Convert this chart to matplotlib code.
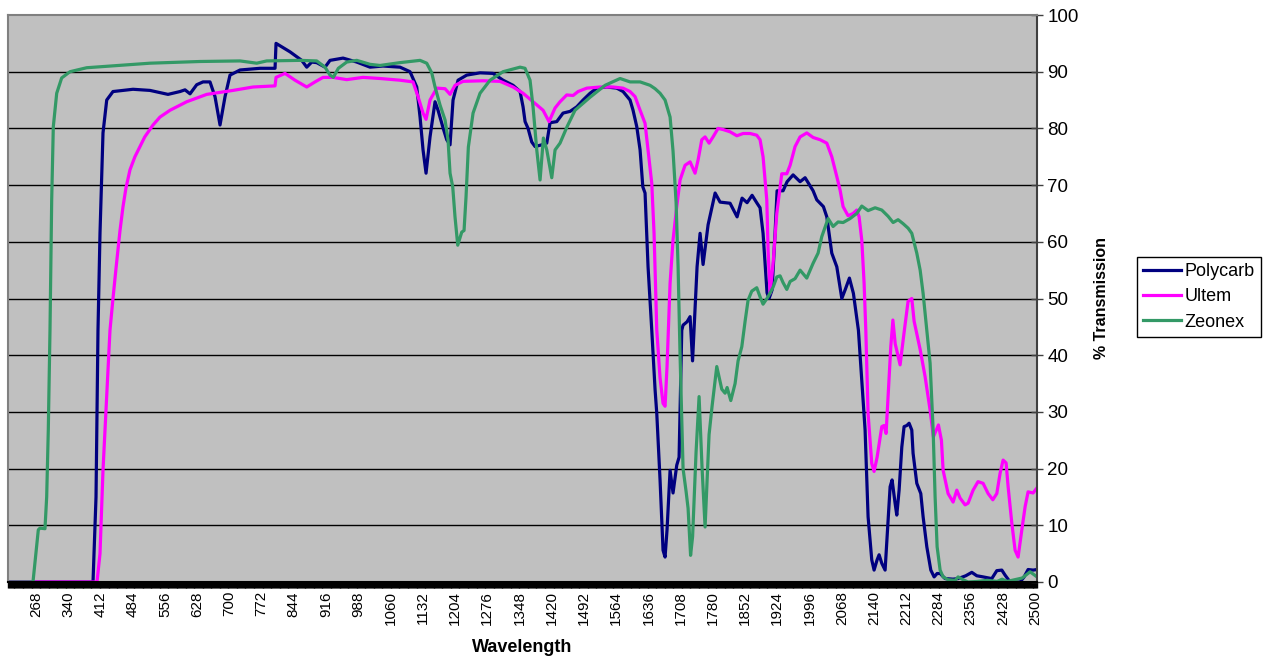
import matplotlib
matplotlib.use("Agg")
import matplotlib.pyplot as plt
from matplotlib.ticker import FixedLocator, MultipleLocator

plt.rcParams['font.family'] = ['Liberation Sans', 'DejaVu Sans']

# wavelength (nm) / % transmission
poly_nm = [205.5, 395.4, 402.1, 406.5, 411.0, 417.7, 426.0, 440.0, 484.7, 522.7, 562.9, 589.7,
           600.9, 612.1, 627.0, 641.1, 656.7, 667.9, 679.1, 690.3, 701.4, 723.8, 768.4, 802.0,
           804.2, 835.5, 861.6, 872.8, 884.0, 895.1, 913.7, 924.8, 953.9, 984.5, 1014.2, 1043.2,
           1081.2, 1103.5, 1118.5, 1125.9, 1132.6, 1139.3, 1148.2, 1159.4, 1166.1, 1177.3, 1185.5,
           1192.9, 1199.6, 1210.8, 1230.2, 1259.9, 1289.0, 1311.3, 1333.6, 1349.3, 1356.0, 1360.5,
           1367.2, 1375.4, 1382.8, 1397.7, 1408.9, 1416.3, 1431.3, 1445.3, 1461.0, 1475.9, 1490.0,
           1505.7, 1520.6, 1543.0, 1565.3, 1579.4, 1595.0, 1601.7, 1610.0, 1617.4, 1623.5, 1628.5,
           1635.2, 1643.5, 1650.9, 1654.7, 1662.0, 1668.7, 1673.2, 1677.6, 1684.4, 1691.0, 1699.3,
           1704.5, 1710.5, 1713.4, 1722.4, 1729.1, 1734.6, 1744.7, 1751.4, 1758.1, 1769.3, 1785.0,
           1796.1, 1818.4, 1834.1, 1845.2, 1856.4, 1867.6, 1878.7, 1885.4, 1892.1, 1901.0, 1905.5,
           1912.2, 1918.9, 1923.4, 1936.8, 1945.8, 1959.2, 1974.8, 1986.0, 2003.9, 2012.1, 2026.9,
           2034.5, 2045.6, 2056.8, 2068.0, 2075.3, 2085.0, 2093.9, 2105.1, 2120.0, 2126.7, 2134.9,
           2140.1, 2146.8, 2151.3, 2157.3, 2164.7, 2169.2, 2175.9, 2180.3, 2187.0, 2190.8, 2196.0,
           2202.0, 2207.1, 2213.2, 2218.3, 2224.3, 2227.2, 2235.5, 2244.4, 2249.6, 2257.9, 2266.8,
           2274.2, 2280.9, 2287.6, 2298.7, 2316.5, 2327.8, 2344.9, 2358.4, 2369.5, 2383.6, 2403.0,
           2414.2, 2425.4, 2432.8, 2444.0, 2466.3, 2475.2, 2484.1, 2495.3, 2504.0]
poly_pct = [0, 0, 15, 44.4, 61.5, 79.2, 85, 86.5, 86.9, 86.7, 86, 86.5,
            86.8, 86.1, 87.7, 88.2, 88.2, 85.6, 80.6, 85.6, 89.4, 90.3, 90.6, 90.6,
            95, 93.5, 92, 90.8, 91.7, 91.6, 90.8, 92, 92.4, 91.7, 90.8, 91,
            90.8, 90, 87.3, 82, 76.2, 72.1, 78.5, 84.7, 83.2, 80.1, 78,
            77.1, 85, 88.5, 89.4, 89.8, 89.7, 88.5, 87.6, 86.5, 83.8, 81.2,
            80, 77.6, 76.8, 77.1, 77.4, 81, 81.2, 82.7, 83, 83.8, 85,
            86.2, 87.1, 87.3, 87.1, 86.5, 85, 83.2, 80.3, 76.2, 69.7, 68.6,
            55.6, 44.4, 33.9, 29.7, 18, 5.6, 4.4, 9.2, 19.7, 15.7, 20.6,
            22, 44.4, 45.3, 45.9, 46.8, 39, 55.6, 61.5, 56, 63, 68.6,
            67, 66.8, 64.4, 67.7, 66.9, 68.2, 66.8, 66, 61.5, 51, 50,
            51.5, 61.5, 69, 69, 70.6, 71.8, 70.6, 71.3, 69, 67.4, 66.2,
            64.4, 58, 55.6, 50, 51.5, 53.6, 50.9, 44.4, 26.8, 11.5, 3.9,
            2.1, 3.9, 4.8, 3.3, 2.1, 8, 16.8, 18, 13.9, 11.8, 16.2,
            23.8, 27.4, 27.6, 28, 26.8, 22.7, 17.4, 15.6, 11.5, 6.2, 2.1,
            0.9, 1.5, 1.5, 0.6, 0.5, 0.6, 1.1, 1.7, 1.1, 0.9, 0.6,
            2, 2.1, 1.2, 0, 0, 0.9, 2.2, 2.1, 2.2]

ultem_nm = [205.5, 404.3, 411.0, 417.7, 426.0, 433.3, 440.0, 447.0, 451.2, 455.7, 462.4, 469.0,
            478.0, 489.0, 500.4, 511.0, 529.4, 545.0, 567.4,
            604.7, 649.4, 708.1, 752.8, 802.0, 804.2, 824.3, 846.6, 872.8, 891.3, 909.2, 931.5,
            962.1, 998.5, 1036.5, 1081.2, 1110.2, 1121.4, 1132.6, 1139.3, 1148.2, 1163.2, 1181.7,
            1192.9, 1204.1, 1221.9, 1266.6, 1304.6, 1333.6, 1356.0, 1378.3, 1400.7, 1414.0, 1427.5,
            1438.6, 1453.6, 1467.7, 1478.9, 1498.3, 1528.0, 1557.1, 1579.4, 1595.0, 1606.2, 1617.4,
            1628.5, 1635.2, 1643.5, 1648.6, 1654.7, 1662.0, 1668.7, 1673.2, 1677.6, 1684.4, 1691.0,
            1699.3, 1706.7, 1717.9, 1729.1, 1740.2, 1746.9, 1755.2, 1762.6, 1771.5, 1780.4, 1791.6,
            1802.8, 1818.4, 1833.6, 1847.5, 1863.1, 1878.0, 1885.4, 1892.1, 1900.4, 1903.3, 1907.8,
            1914.5, 1922.8, 1933.9, 1945.1, 1952.5, 1963.6, 1974.8, 1989.8, 2003.9, 2019.5, 2034.5,
            2045.6, 2056.8, 2064.2, 2070.9, 2082.0, 2093.2, 2101.5, 2106.6, 2112.6, 2117.8, 2121.6,
            2126.7, 2134.9, 2140.1, 2146.8, 2157.3, 2162.4, 2166.9, 2171.4, 2177.4, 2182.1, 2187.3,
            2198.2, 2207.1, 2216.0, 2224.3, 2229.5, 2243.0, 2254.1, 2265.2, 2272.6, 2283.8, 2290.5,
            2294.3, 2305.4, 2316.6, 2324.9, 2332.2, 2343.4, 2350.1, 2361.3, 2372.3, 2383.6, 2394.8,
            2405.3, 2414.2, 2421.6, 2428.3, 2435.0, 2439.5, 2447.7, 2455.1, 2461.8, 2470.1, 2477.5,
            2484.1, 2495.3, 2504.0]
ultem_pct = [0, 0, 5, 19.7, 32.7, 44.4, 50, 55.5, 58.6, 62, 66.2, 69.5,
             72.7, 75, 76.8, 78.5, 80.6, 82, 83.2,
             84.7, 86, 86.7, 87.3, 87.5, 89, 89.7, 88.5, 87.3, 88.2, 89, 89,
             88.6, 89, 88.8, 88.5, 88.2, 85.6, 82.7, 81.6, 85, 87.1, 87,
             86, 87.6, 88.3, 88.4, 88.3, 87.3, 86.2, 84.7, 83.2, 81.2, 83.6,
             84.7, 85.9, 85.8, 86.5, 87.1, 87.3, 87.3, 87.1, 86.5, 85.6, 83.2,
             80.9, 76.2, 70.3, 61.5, 44.4, 36, 31.5, 31, 38, 52.7, 60.3,
             66.2, 70.9, 73.5, 74.1, 72.1, 74.4, 78, 78.5, 77.4, 78.5, 80,
             79.8, 79.4, 78.7, 79.1, 79.1, 78.8, 78, 75, 67.4, 58.6, 50.9,
             56.2, 65, 72, 72, 73.5, 76.8, 78.5, 79.2, 78.4, 78, 77.4,
             75, 71.5, 69.1, 66.2, 64.6, 65, 65.6, 64.4, 60.3, 52.7, 44.4,
             29.7, 20.9, 19.5, 22, 27.4, 27.6, 26.2, 32.7, 41.5, 46.2, 42,
             38.3, 44, 49.5, 50, 46, 41, 36.2, 30.3, 25.6, 27.7, 25,
             19.7, 15.6, 14.1, 16.2, 14.8, 13.6, 13.9, 16.2, 17.7, 17.4, 15.6,
             14.5, 15.6, 19.2, 21.5, 21, 16.8, 10.4, 5.6, 4.4, 9.2, 13.3,
             15.9, 15.7, 16.6]

zeo_nm = [205.5, 261.3, 273.2, 277.0, 288.1, 291.9, 295.5, 299.3, 303.1, 306.7, 314.3, 325.4,
          344.0, 381.3, 433.3, 522.7, 634.4, 723.8, 761.1, 783.4, 857.8, 895.1, 913.6, 924.8,
          932.2, 943.4, 962.1, 984.5, 1014.2, 1036.5, 1081.2, 1125.9, 1140.8, 1152.0, 1159.4,
          1170.6, 1181.7, 1188.4, 1192.9, 1198.9, 1204.0, 1210.1, 1219.0, 1224.2, 1228.6, 1233.8,
          1244.3, 1259.9, 1282.3, 1311.3, 1349.3, 1360.4, 1371.6, 1378.3, 1386.6, 1394.0, 1401.4,
          1409.0, 1420.1, 1427.5, 1438.6, 1454.3, 1472.1, 1505.7, 1539.2, 1572.7, 1595.0, 1617.4,
          1639.7, 1650.9, 1662.0, 1673.2, 1684.4, 1691.0, 1697.8, 1702.3, 1706.7, 1713.4, 1720.1,
          1724.6, 1730.2, 1734.7, 1742.5, 1749.2, 1755.9, 1762.6, 1771.5, 1778.2, 1788.7, 1799.9,
          1807.3, 1811.8, 1820.0, 1829.6, 1836.3, 1844.6, 1852.0, 1858.6, 1866.9, 1878.0, 1885.4,
          1892.1, 1903.3, 1914.5, 1922.8, 1930.1, 1936.8, 1945.1, 1952.5, 1963.6, 1974.8, 1989.7,
          2003.8, 2015.0, 2023.2, 2037.4, 2048.5, 2059.7, 2070.9, 2086.5, 2101.5, 2112.6, 2126.7,
          2142.4, 2157.3, 2171.4, 2182.6, 2193.7, 2204.9, 2216.1, 2224.3, 2235.5, 2243.0, 2249.6,
          2257.9, 2265.2, 2272.0, 2276.4, 2280.9, 2287.6, 2294.3, 2305.4, 2321.1, 2327.8, 2338.9,
          2350.1, 2370.2, 2392.6, 2414.9, 2426.1, 2437.3, 2459.6, 2470.8, 2488.6, 2495.3, 2504.0]
zeo_pct = [0, 0, 9.2, 9.5, 9.4, 15, 26.8, 44.4, 67.4, 80.3, 86.2, 88.9,
           90, 90.7, 91, 91.5, 91.8, 91.9, 91.5, 91.9, 92, 91.9, 90.8, 89.4,
           89, 90.6, 91.7, 92, 91.3, 91.1, 91.6, 92, 91.5, 89.8, 87.3,
           84.1, 81.5, 78, 72.1, 69.7, 64.4, 59.4, 61.7, 62, 67.9, 76.7,
           82.7, 86.2, 88.5, 90, 90.8, 90.6, 88.5, 83.8, 76.2, 70.9, 78.3,
           76.2, 71.3, 76.2, 77.4, 80.3, 83.2, 85.5, 87.6, 88.8, 88.2, 88.2,
           87.6, 87, 86.2, 85, 82, 76, 67, 55.6, 40, 20, 16,
           13, 4.7, 8, 23, 32.7, 20, 9.7, 26, 31, 38, 34,
           33.3, 34.3, 32, 35, 39, 41.5, 46, 49.7, 51.3, 51.9, 50.3,
           49, 50.3, 52, 53.8, 54, 52.8, 51.6, 53, 53.5, 55, 53.6,
           56.2, 58, 60.9, 64.1, 62.7, 63.5, 63.4, 64.1, 65, 66.3, 65.5,
           66, 65.6, 64.5, 63.4, 63.9, 63.2, 62.4, 61.5, 58, 55, 50.9,
           44.4, 38.6, 26.8, 15, 6.2, 2.1, 0.9, 0.4, 0.3, 0.9, 0.4,
           0, 0.1, 0.3, 0.1, 0.5, 0.1, 0.5, 0.7, 1.8, 1.4, 0.9]

x_ticks = [268, 340, 412, 484, 556, 628, 700, 772, 844, 916, 988, 1060, 1132, 1204, 1276,
           1348, 1420, 1492, 1564, 1636, 1708, 1780, 1852, 1924, 1996, 2068, 2140, 2212, 2284,
           2356, 2428, 2500]
y_ticks = [0, 10, 20, 30, 40, 50, 60, 70, 80, 90, 100]

W, H = 1267, 658
fig = plt.figure(figsize=(W / 100, H / 100), dpi=100)
ax = fig.add_axes([8 / W, 1 - 582 / H, (1037 - 8) / W, (582 - 15) / H])
ax.set_facecolor('#C0C0C0')

lw = 2.3
l1, = ax.plot(poly_nm, poly_pct, color='#000080', lw=lw, solid_joinstyle='round', label='Polycarb')
l2, = ax.plot(ultem_nm, ultem_pct, color='#FF00FF', lw=lw, solid_joinstyle='round', label='Ultem')
l3, = ax.plot(zeo_nm, zeo_pct, color='#339966', lw=lw, solid_joinstyle='round', label='Zeonex')

ax.set_xlim(205.5, 2504)
ax.set_ylim(0, 100)

for v in y_ticks[1:-1]:
    ax.axhline(v, color='black', lw=1.0, zorder=1)

ax.yaxis.tick_right()
ax.yaxis.set_major_locator(FixedLocator(y_ticks))
ax.tick_params(axis='y', which='major', direction='inout', length=9, width=1,
               color='#404040', labelsize=13.5, pad=3)

ax.xaxis.set_major_locator(FixedLocator(x_ticks))
ax.xaxis.set_minor_locator(MultipleLocator(2))
ax.set_xticklabels([str(t) for t in x_ticks], rotation=90)
ax.tick_params(axis='x', which='both', direction='out', length=4.5, width=1.0,
               color='black', labelsize=11, pad=2)

for side in ('left', 'top'):
    ax.spines[side].set_color('#808080')
    ax.spines[side].set_linewidth(1.5)
ax.spines['right'].set_color('#404040')
ax.spines['right'].set_linewidth(1.5)
ax.spines['bottom'].set_color('black')
ax.spines['bottom'].set_linewidth(1.5)

fig.text(522 / W, 1 - 647 / H, 'Wavelength', ha='center', va='center',
         fontsize=13, fontweight='bold')
fig.text(1101 / W, 1 - 298 / H, '% Transmission', ha='center', va='center',
         rotation=90, fontsize=11.5, fontweight='bold')

leg = fig.legend(handles=[l1, l2, l3], loc='upper left',
                 bbox_to_anchor=(1137 / W, 1 - 257 / H), frameon=True, fancybox=False,
                 edgecolor='black', framealpha=1, fontsize=13, handlelength=2.1,
                 handletextpad=0.2, borderpad=0.35, labelspacing=0.45, borderaxespad=0)
leg.get_frame().set_linewidth(1.0)

fig.savefig('out.png', dpi=100)
